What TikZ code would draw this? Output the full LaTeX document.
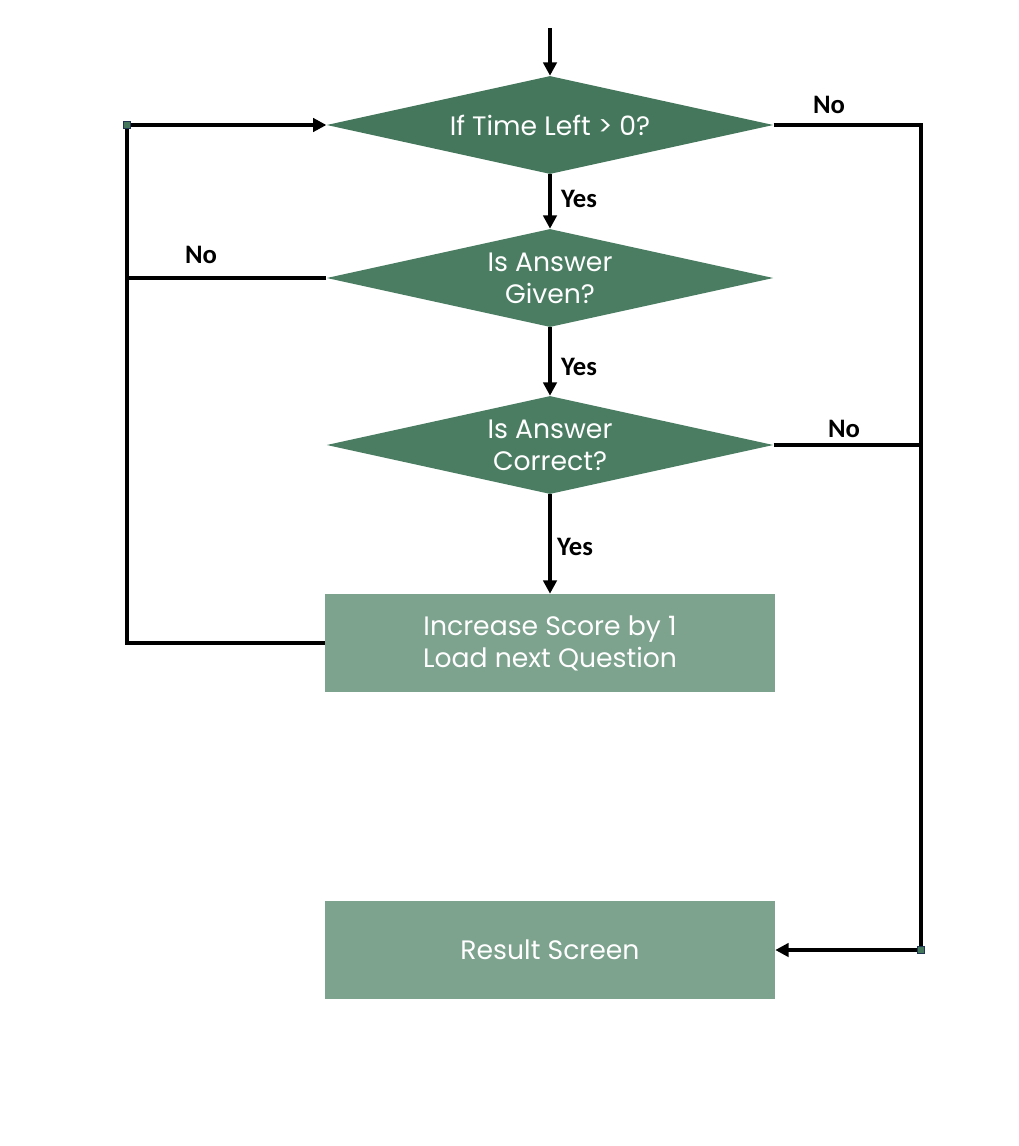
\documentclass[tikz,border=0pt]{standalone}
\usepackage{fontspec}
\newfontfamily\popfont{Poppins}
\newfontfamily\lblfont{Carlito}
\usetikzlibrary{shapes.geometric,arrows.meta}
\definecolor{dgreen}{HTML}{45775C}
\definecolor{dgreenb}{HTML}{4B7D63}
\definecolor{lgreen}{HTML}{7DA28E}
\definecolor{navy}{HTML}{1F3353}
\tikzset{
  decision/.style={diamond, shape aspect=4.55, fill=dgreenb, draw=none, inner sep=0pt,
    minimum width=335pt, minimum height=73.5pt, text=white,
    font=\popfont\fontsize{20}{24}\selectfont, align=center},
  process/.style={rectangle, fill=lgreen, draw=none, inner sep=0pt,
    minimum width=337.5pt, minimum height=73.5pt, text=white,
    font=\popfont\fontsize{20}{24}\selectfont, align=center},
  conn/.style={line width=3.2pt, black},
  arr/.style={conn, -{Triangle[length=10pt,width=10pt]}},
  lbl/.style={font=\lblfont\bfseries\fontsize{20}{22}\selectfont, text=black, inner sep=0pt},
  joint/.style={rectangle, fill=dgreen, draw=navy, line width=1.2pt, inner sep=0pt, minimum size=5.5pt}
}
\begin{document}
\begin{tikzpicture}[x=0.75pt,y=-0.75pt]
\useasboundingbox (0,0) rectangle (1018,1146);
\node[decision, fill=dgreen] (d1) at (550,125) {If Time Left > 0?};
\node[decision] (d2) at (550,278) {Is Answer\\Given?};
\node[decision] (d3) at (550,445) {Is Answer\\Correct?};
\node[process] (r1) at (550,643) {Increase Score by 1\\Load next Question};
\node[process] (r2) at (550,950) {Result Screen};
\coordinate (start) at (550,28);
\coordinate (lt) at (127,125);
\coordinate (lb) at (127,643);
\coordinate (rt) at (921,125);
\coordinate (rb) at (921,950);
% main flow
\draw[arr] (start) -- (d1.north);
\draw[arr] (d1.south) -- (d2.north);
\draw[arr] (d2.south) -- (d3.north);
\draw[arr] (d3.south) -- (r1.north);
% left loop
\draw[conn] (r1.west) -- (lb) -- (lt);
\draw[arr] (lt) -- (d1.west);
\draw[conn] (d2.west) -- (d2.west -| lt);
% right path
\draw[conn] (d1.east) -- (rt) -- (rb);
\draw[conn] (d3.east) -- (d3.east -| rt);
\draw[arr] (rb) -- (r2.east);
\node[joint] (j1) at (lt) {};
\node[joint] (j2) at (rb) {};
% labels
\node[lbl] (n1) at (829,105) {No};
\node[lbl] (y1) at (579,199) {Yes};
\node[lbl] (n2) at (201,255) {No};
\node[lbl] (y2) at (579,367) {Yes};
\node[lbl] (n3) at (844,429) {No};
\node[lbl] (y3) at (575,547) {Yes};
\end{tikzpicture}
\end{document}
